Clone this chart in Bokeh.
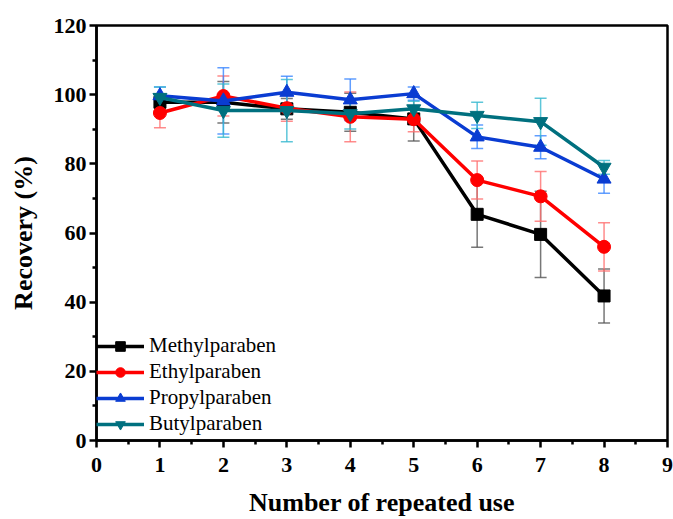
from bokeh.plotting import figure
from bokeh.models import (ColumnDataSource, Whisker, TeeHead, FixedTicker, Legend, LegendItem,
                          Range1d)
from bokeh.embed import file_html
from bokeh.resources import INLINE

uses = [1, 2, 3, 4, 5, 6, 7, 8]
methyl = [97.8, 97.8, 95.9, 94.9, 93.0, 65.4, 59.6, 41.8]
methyl_err = [2.5, 6.0, 3.0, 5.5, 6.4, 9.5, 12.5, 7.8]
ethyl = [94.7, 99.6, 96.1, 93.6, 92.9, 75.3, 70.6, 56.0]
ethyl_err = [4.3, 5.8, 3.8, 7.2, 3.6, 5.5, 7.2, 7.0]
propyl = [99.7, 98.2, 100.7, 98.5, 100.3, 87.8, 84.8, 75.6]
propyl_err = [2.5, 9.6, 4.6, 6.0, 1.9, 3.4, 3.3, 4.1]
butyl = [99.2, 95.4, 95.4, 94.5, 95.9, 94.0, 92.2, 79.0]
butyl_err = [3.0, 7.7, 9.0, 4.4, 2.2, 3.8, 6.8, 2.0]

x_title = "Number of repeated use"
y_title = "Recovery (%)"

series = [
    ("Methylparaben", methyl, methyl_err, "#000000", "#555555", "square", 12),
    ("Ethylparaben", ethyl, ethyl_err, "#ff0000", "#ff6f6f", "circle", 13),
    ("Propylparaben", propyl, propyl_err, "#0a3cd2", "#3a86ff", "triangle", 14),
    ("Butylparaben", butyl, butyl_err, "#00707f", "#35b8cf", "inverted_triangle", 14),
]

FONT = "Liberation Serif"

p = figure(width=673, height=519, output_backend="svg", toolbar_location=None,
           x_range=Range1d(0, 9), y_range=Range1d(0, 120),
           min_border_left=96, min_border_right=6, min_border_top=25, min_border_bottom=79)
p.grid.visible = False
p.outline_line_color = "black"
p.outline_line_width = 2.5
p.background_fill_color = "white"
p.border_fill_color = "white"

items = []
for name, vals, errs, col, ecol, marker, size in series:
    src = ColumnDataSource(dict(x=uses, y=vals,
                                upper=[v + e for v, e in zip(vals, errs)],
                                lower=[v - e for v, e in zip(vals, errs)]))
    w = Whisker(source=src, base="x", upper="upper", lower="lower",
                line_color=ecol, line_width=1.5, line_alpha=0.8,
                upper_head=TeeHead(size=12, line_color=ecol, line_width=1.5, line_alpha=0.8),
                lower_head=TeeHead(size=12, line_color=ecol, line_width=1.5, line_alpha=0.8))
    p.add_layout(w)
for name, vals, errs, col, ecol, marker, size in series:
    src = ColumnDataSource(dict(x=uses, y=vals))
    l = p.line("x", "y", source=src, line_color=col, line_width=3.5)
    s = p.scatter("x", "y", source=src, marker=marker, size=size, fill_color=col, line_color=col)
    items.append(LegendItem(label=name, renderers=[l, s]))

legend = Legend(items=items, location=(0, 4), border_line_color=None,
                background_fill_alpha=0, label_text_font=FONT, label_text_font_size="21px",
                label_text_color="black",
                glyph_width=48, glyph_height=24, label_height=24, spacing=1, padding=2,
                label_standoff=5, margin=0)
p.add_layout(legend, "center")

for ax in (p.xaxis[0], p.yaxis[0]):
    ax.axis_line_width = 2.5
    ax.major_tick_line_width = 2.5
    ax.minor_tick_line_width = 2.5
    ax.major_tick_out = 7
    ax.major_tick_in = 0
    ax.minor_tick_out = 4
    ax.minor_tick_in = 0
    ax.major_label_text_font = FONT
    ax.major_label_text_font_style = "bold"
    ax.major_label_text_font_size = "22px"
    ax.major_label_text_color = "black"
    ax.axis_label_text_font = FONT
    ax.axis_label_text_font_style = "bold"
    ax.axis_label_text_font_size = "26px"
    ax.axis_label_text_color = "black"

p.xaxis.ticker = FixedTicker(ticks=list(range(0, 10)), minor_ticks=[i + 0.5 for i in range(9)])
p.yaxis.ticker = FixedTicker(ticks=list(range(0, 121, 20)), minor_ticks=list(range(10, 120, 20)))
p.xaxis.axis_label = x_title
p.yaxis.axis_label = y_title
p.xaxis.major_label_standoff = 10
p.yaxis.major_label_standoff = 3
p.xaxis.axis_label_standoff = 13
p.yaxis.axis_label_standoff = 13

open("out.html", "w").write(file_html(p, INLINE))
